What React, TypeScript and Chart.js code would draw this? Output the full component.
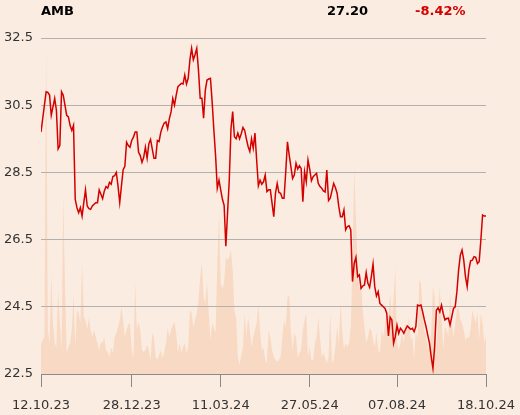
import React, { useEffect, useRef } from "react";
import { Chart, registerables } from "chart.js";

Chart.register(...registerables);

const tickIdx = [0, 53, 105, 157, 208, 260];
const tickLabels = ["12.10.23", "28.12.23", "11.03.24", "27.05.24", "07.08.24", "18.10.24"];
const yTicks = [22.5, 24.5, 26.5, 28.5, 30.5, 32.5];

const price = [
  29.7, 30.1, 30.5, 30.9, 30.88, 30.8, 30.2, 30.45, 30.7, 30.35,
  29.2, 29.3, 30.9, 30.8, 30.5, 30.2, 30.15, 29.9, 29.75, 29.9,
  27.7, 27.45, 27.3, 27.45, 27.2, 27.6, 27.98, 27.5, 27.42, 27.4,
  27.5, 27.55, 27.6, 27.6, 27.98, 27.85, 27.72, 27.95, 28.08, 28.03,
  28.2, 28.15, 28.38, 28.4, 28.5, 28.1, 27.6, 28.1, 28.58, 28.68,
  29.4, 29.3, 29.25, 29.45, 29.55, 29.7, 29.7, 29.1, 29.0, 28.8,
  28.95, 29.25, 28.92, 29.35, 29.48, 29.2, 28.92, 28.92, 29.45, 29.42,
  29.7, 29.85, 29.97, 30.0, 29.8, 30.1, 30.3, 30.7, 30.5, 30.8,
  31.05, 31.1, 31.15, 31.13, 31.4, 31.13, 31.3, 31.85, 32.19, 31.85,
  32.0, 32.19, 31.55, 30.71, 30.71, 30.11, 30.95, 31.25, 31.28, 31.3,
  30.6, 29.76, 29.0, 28.03, 28.27, 27.98, 27.7, 27.52, 26.3, 27.3,
  28.27, 29.8, 30.31, 29.56, 29.5, 29.67, 29.5, 29.65, 29.84, 29.75,
  29.5, 29.27, 29.12, 29.5, 29.22, 29.67, 28.87, 28.1, 28.27, 28.15,
  28.22, 28.42, 27.93, 27.98, 27.98, 27.58, 27.18, 27.88, 28.17, 27.9,
  27.88, 27.73, 27.73, 28.52, 29.41, 29.02, 28.67, 28.32, 28.42, 28.77,
  28.6, 28.7, 28.62, 27.63, 28.52, 28.22, 28.87, 28.6, 28.25, 28.37,
  28.42, 28.47, 28.17, 28.08, 28.03, 27.95, 27.92, 28.57, 27.66, 27.73,
  27.95, 28.17, 28.05, 27.88, 27.48, 27.18, 27.18, 27.38, 26.79, 26.89,
  26.91, 26.79, 25.25, 25.79, 25.97, 25.4, 25.45, 25.05, 25.12, 25.15,
  25.52, 25.2, 25.08, 25.4, 25.77, 25.1, 24.82, 24.95, 24.6, 24.55,
  24.5, 24.45, 24.31, 23.63, 24.19, 24.11, 23.41, 23.61, 23.95, 23.71,
  23.86, 23.8, 23.71, 23.83, 23.93, 23.88, 23.83, 23.86, 23.76, 23.91,
  24.55, 24.53, 24.55, 24.35, 24.11, 23.9, 23.65, 23.41, 23.01, 22.67,
  23.31, 24.4, 24.47, 24.35, 24.55, 24.3, 24.11, 24.15, 24.16, 23.96,
  24.2, 24.45, 24.5, 24.95, 25.6, 26.04, 26.19, 25.89, 25.4, 25.1,
  25.6, 25.87, 25.89, 25.99, 25.97, 25.79, 25.84, 26.49, 27.23, 27.2,
  27.2,
];

const volume = [
  30, 34, 37, 331, 44, 31, 99, 51, 31, 27,
  84, 51, 24, 179, 91, 21, 27, 31, 44, 81,
  27, 64, 61, 51, 111, 57, 54, 44, 57, 44,
  37, 44, 37, 31, 24, 32, 31, 37, 24, 22,
  17, 27, 21, 37, 41, 47, 54, 67, 54, 37,
  44, 49, 51, 24, 15, 92, 44, 52, 44, 24,
  22, 24, 29, 24, 14, 41, 37, 17, 14, 19,
  24, 16, 22, 31, 46, 37, 44, 49, 52, 41,
  21, 31, 21, 27, 31, 21, 27, 64, 61, 47,
  54, 61, 74, 97, 111, 77, 71, 92, 61, 34,
  51, 46, 41, 111, 161, 91, 85, 91, 117, 114,
  117, 124, 104, 64, 56, 17, 9, 19, 27, 61,
  37, 57, 44, 27, 37, 44, 51, 69, 44, 24,
  26, 14, 11, 44, 37, 24, 17, 14, 12, 14,
  17, 37, 54, 47, 77, 79, 44, 24, 41, 37,
  16, 21, 24, 44, 54, 61, 17, 27, 14, 14,
  31, 37, 57, 37, 17, 21, 16, 11, 17, 61,
  11, 14, 27, 47, 31, 71, 44, 24, 31, 27,
  31, 47, 111, 206, 157, 104, 84, 91, 64, 47,
  31, 37, 46, 44, 34, 27, 42, 24, 21, 44,
  37, 51, 57, 57, 81, 54, 77, 106, 31, 24,
  31, 41, 31, 51, 41, 57, 34, 37, 14, 44,
  34, 94, 91, 61, 44, 37, 24, 27, 41, 87,
  77, 17, 61, 87, 57, 24, 47, 44, 37, 82,
  51, 37, 51, 64, 67, 54, 51, 44, 34, 37,
  36, 44, 64, 57, 51, 62, 34, 61, 51, 31,
  37,
];

const symbol = "AMB";
const lastPrice = "27.20";
const change = "-8.42%";

const FONT = "'DejaVu Sans', sans-serif";

export default function App() {
  const ref = useRef<HTMLCanvasElement>(null);

  useEffect(() => {
    if (!ref.current) return;
    Chart.defaults.font.family = FONT;
    Chart.defaults.font.size = 13;
    const chart = new Chart(ref.current, {
      type: "line",
      data: {
        datasets: [
          {
            data: price.map((v, i) => ({ x: i, y: v })),
            borderColor: "#d40000",
            borderWidth: 1.5,
            pointRadius: 0,
            tension: 0,
            fill: false,
            yAxisID: "y",
            order: 0,
          },
          {
            data: volume.map((v, i) => ({ x: i, y: v })),
            borderWidth: 0,
            borderColor: "rgba(0,0,0,0)",
            backgroundColor: "#f8d9c3",
            pointRadius: 0,
            tension: 0,
            fill: "origin",
            yAxisID: "yVol",
            order: 1,
          },
        ],
      },
      options: {
        responsive: false,
        animation: false,
        events: [],
        layout: { padding: { top: 38, right: 34, left: 0, bottom: 0 } },
        plugins: {
          legend: { display: false },
          tooltip: { enabled: false },
          filler: { drawTime: "beforeDraw" },
        } as any,
        scales: {
          x: {
            type: "linear",
            min: 0,
            max: price.length - 1,
            position: "bottom",
            afterBuildTicks: (s: any) => {
              s.ticks = tickIdx.map((v) => ({ value: v }));
            },
            afterFit: (s: any) => {
              s.height = 41;
              s.paddingLeft = 0;
              s.paddingRight = 0;
            },
            ticks: {
              autoSkip: false,
              maxRotation: 0,
              padding: 11,
              color: "#333",
              font: { size: 13, family: FONT },
              callback: (v: any) => {
                const k = tickIdx.indexOf(Number(v));
                return k >= 0 ? tickLabels[k] : "";
              },
            },
            grid: {
              display: true,
              drawOnChartArea: false,
              drawTicks: true,
              tickLength: 13,
              color: "#8a8a8a",
            },
            border: { display: true, color: "#8a8a8a" },
          },
          y: {
            type: "linear",
            position: "left",
            min: 22.5,
            max: 32.5,
            afterBuildTicks: (s: any) => {
              s.ticks = yTicks.map((v) => ({ value: v }));
            },
            afterFit: (s: any) => {
              s.width = 41;
              s.paddingTop = 0;
              s.paddingBottom = 0;
            },
            ticks: {
              padding: 8,
              color: "#333",
              font: { size: 13, family: FONT },
              callback: (v: any) => Number(v).toFixed(1),
            },
            grid: { color: "#b3b0ad", drawTicks: false, lineWidth: 1 },
            border: { display: false },
          },
          yVol: {
            type: "linear",
            display: false,
            min: 0,
            max: 336,
          },
        },
      },
    });
    return () => chart.destroy();
  }, []);

  const head: React.CSSProperties = {
    position: "absolute",
    top: 3,
    fontFamily: FONT,
    fontWeight: "bold",
    fontSize: 13,
    lineHeight: "15px",
    whiteSpace: "nowrap",
  };

  return (
    <div
      style={{
        position: "fixed",
        left: 0,
        top: 0,
        width: 520,
        height: 415,
        background: "#fbece1",
        overflow: "hidden",
      }}
    >
      <canvas ref={ref} width={520} height={415} style={{ position: "absolute", left: 0, top: 0 }} />
      <div style={{ ...head, left: 41, color: "#000" }}>{symbol}</div>
      <div style={{ ...head, left: 327, color: "#000" }}>{lastPrice}</div>
      <div style={{ ...head, left: 415, color: "#d40000" }}>{change}</div>
    </div>
  );
}
